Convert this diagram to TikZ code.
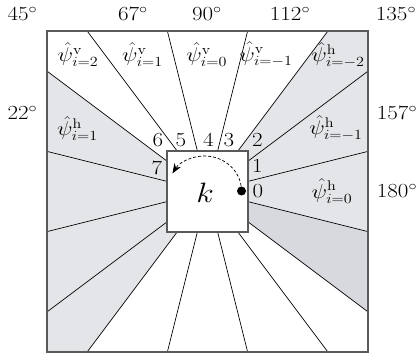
\RequirePackage{fix-cm}
\documentclass[tikz,border=0pt]{standalone}
\usetikzlibrary{arrows.meta}
\definecolor{graylight}{RGB}{228,229,233}
\definecolor{graydark}{RGB}{216,217,222}
\definecolor{framegray}{RGB}{90,90,90}
\newcommand{\stx}[1]{\scalebox{1.15}[1]{#1}}
\begin{document}
\begin{tikzpicture}[x=1pt,y=-1pt,
  lbl/.style={font=\fontsize{20}{24}\selectfont, inner sep=0pt},
  ray/.style={line width=0.7pt, black},
  frame/.style={line width=1.2pt, draw=framegray},
]
\useasboundingbox (0,0) rectangle (420,358);
\def\ro{160.5}
\def\ri{40.5}
\begin{scope}[shift={(207.5,191.5)}]
  % shaded sectors
  \fill[graylight] (-\ri,-0.75*\ri) -- (-\ro,-0.75*\ro) -- (-\ro,\ro) -- (-0.75*\ro,\ro) -- (-0.75*\ri,\ri) -- (-\ri,\ri) -- cycle;
  \fill[graylight] (\ri,0.75*\ri) -- (\ro,0.75*\ro) -- (\ro,-\ro) -- (0.75*\ro,-\ro) -- (0.75*\ri,-\ri) -- (\ri,-\ri) -- cycle;
  \fill[graydark] (\ri,0.25*\ri) -- (\ro,0.25*\ro) -- (\ro,0.75*\ro) -- (\ri,0.75*\ri) -- cycle;
  % rays
  \foreach \a/\b in {1/0.75,1/0.25,1/-0.25,1/-0.75,-1/0.75,-1/0.25,-1/-0.25,-1/-0.75,0.75/1,0.25/1,-0.25/1,-0.75/1,0.75/-1,0.25/-1,-0.25/-1,-0.75/-1}
    \draw[ray] (\a*\ri,\b*\ri) -- (\a*\ro,\b*\ro);
  \draw[frame] (-\ro,-\ro) rectangle (\ro,\ro);
  \draw[frame, fill=white] (-\ri,-\ri) rectangle (\ri,\ri);
\end{scope}
% arc with arrow
\draw[line width=0.7pt, dash pattern=on 3pt off 2pt, -{Stealth[length=10pt,width=7.5pt]}] (241.5,191) arc[start angle=0, end angle=-150, x radius=37, y radius=35];
\fill (241.5,191) circle[radius=4.5];
\node[font=\fontsize{28}{32}\selectfont, inner sep=0pt] (k) at (205,193) {\stx{$k$}};
% angle labels
\node[lbl, anchor=base] (a45) at (22.5,20.7) {\stx{$45^\circ$}};
\node[lbl, anchor=base] (a67) at (133,20.7) {\stx{$67^\circ$}};
\node[lbl, anchor=base] (a90) at (207,20.7) {\stx{$90^\circ$}};
\node[lbl, anchor=base] (a112) at (290,20.7) {\stx{$112^\circ$}};
\node[lbl, anchor=base] (a135) at (396,20.7) {\stx{$135^\circ$}};
\node[lbl, anchor=base] (a22) at (22.5,119.5) {\stx{$22^\circ$}};
\node[lbl, anchor=base] (a157) at (397,119.5) {\stx{$157^\circ$}};
\node[lbl, anchor=base] (a180) at (397,197.5) {\stx{$180^\circ$}};
% index labels
\node[lbl, anchor=base] (n0) at (258,197) {\stx{$0$}};
\node[lbl, anchor=base] (n1) at (257.5,173) {\stx{$1$}};
\node[lbl, anchor=base] (n2) at (257.5,147) {\stx{$2$}};
\node[lbl, anchor=base] (n3) at (229,147) {\stx{$3$}};
\node[lbl, anchor=base] (n4) at (208.5,147) {\stx{$4$}};
\node[lbl, anchor=base] (n5) at (181,147) {\stx{$5$}};
\node[lbl, anchor=base] (n6) at (158,147) {\stx{$6$}};
\node[lbl, anchor=base] (n7) at (157,175) {\stx{$7$}};
% sector labels
\node[lbl] (v2) at (78,54.5) {\stx{$\hat\psi^{\mathrm{v}}_{i=2}$}};
\node[lbl] (v1) at (142.5,54.5) {\stx{$\hat\psi^{\mathrm{v}}_{i=1}$}};
\node[lbl] (v0) at (206.7,54.5) {\stx{$\hat\psi^{\mathrm{v}}_{i=0}$}};
\node[lbl] (vm1) at (266,54.5) {\stx{$\hat\psi^{\mathrm{v}}_{i=-1}$}};
\node[lbl] (hm2) at (338,55) {\stx{$\hat\psi^{\mathrm{h}}_{i=-2}$}};
\node[lbl] (h1) at (77.5,128.7) {\stx{$\hat\psi^{\mathrm{h}}_{i=1}$}};
\node[lbl] (hm1) at (336,128) {\stx{$\hat\psi^{\mathrm{h}}_{i=-1}$}};
\node[lbl] (h0) at (332,191) {\stx{$\hat\psi^{\mathrm{h}}_{i=0}$}};
\end{tikzpicture}
\end{document}
